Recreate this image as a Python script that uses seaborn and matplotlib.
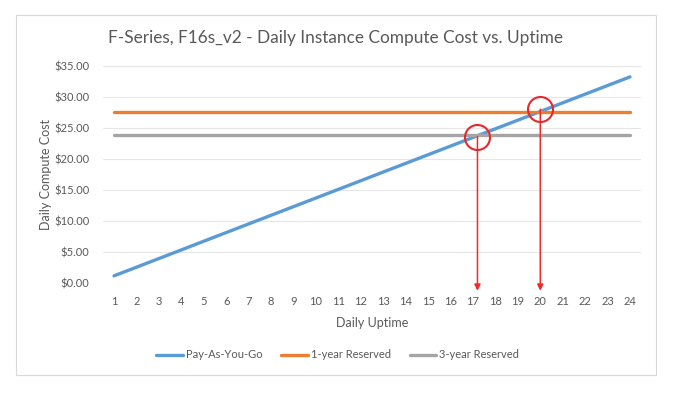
import pandas as pd
import seaborn as sns
import matplotlib.pyplot as plt
from matplotlib.patches import Rectangle
from matplotlib.ticker import FuncFormatter

# chart values
hours = list(range(1, 25))
pay_as_you_go = [1.20, 2.59, 3.98, 5.37, 6.77, 8.16, 9.55, 10.94, 12.33, 13.72, 15.11, 16.50,
                 17.90, 19.29, 20.68, 22.07, 23.46, 24.85, 26.24, 27.63, 29.03, 30.42, 31.81, 33.20]
one_year_reserved = 27.55
three_year_reserved = 23.85
series_names = ['Pay-As-You-Go', '1-year Reserved', '3-year Reserved']
colors = ['#5B9BD5', '#ED7D31', '#A5A5A5']

# break-even markers (circled points with arrows down to the axis)
breakeven_hours = [17.2, 20.0]
breakeven_costs = [23.6, 28.0]

df = pd.DataFrame({
    'Daily Uptime': hours * 3,
    'Daily Compute Cost': pay_as_you_go + [one_year_reserved] * len(hours) + [three_year_reserved] * len(hours),
    'Plan': [series_names[0]] * len(hours) + [series_names[1]] * len(hours) + [series_names[2]] * len(hours),
})

sns.set_style('white')
plt.rcParams['font.family'] = ['Lato', 'DejaVu Sans']
text_color = '#595959'

fig = plt.figure(figsize=(6.85, 3.97), dpi=100)
fig.patches.append(Rectangle((16 / 685, 22 / 397), 640 / 685, 360 / 397, transform=fig.transFigure,
                             facecolor='none', edgecolor='#D9D9D9', lw=0.8, zorder=-10))
ax = fig.add_axes([0.1501, 0.2864, 0.786, 0.5481])
ax.set_facecolor('none')

sns.lineplot(data=df, x='Daily Uptime', y='Daily Compute Cost', hue='Plan', palette=colors,
             linewidth=2.4, ax=ax, legend=False, zorder=3)

ax.set_xlim(0.5, 24.5)
ax.set_ylim(0, 35)
ax.set_xticks(hours)
ax.set_yticks(range(0, 36, 5))
ax.yaxis.set_major_formatter(FuncFormatter(lambda v, p: f'${v:.2f}'))
ax.grid(axis='y', color='#E6E6E6', lw=0.8, zorder=0)
for s in ax.spines.values():
    s.set_visible(False)
ax.tick_params(axis='both', length=0, labelsize=8, labelcolor=text_color)
ax.tick_params(axis='x', pad=9)
ax.tick_params(axis='y', pad=9.5)
ax.set_xlabel('Daily Uptime', fontsize=9, color=text_color, labelpad=7)
ax.set_ylabel('Daily Compute Cost', fontsize=9, color=text_color, labelpad=2)
fig.text(0.4905, 0.904, 'F-Series, F16s_v2 - Daily Instance Compute Cost vs. Uptime', fontsize=12.4,
         color=text_color, ha='center', va='center')

for bx, by in zip(breakeven_hours, breakeven_costs):
    ax.plot(bx, by, marker='o', markersize=18, markerfacecolor='none',
            markeredgecolor='#E8272A', markeredgewidth=1.5, zorder=5, clip_on=False)
    ax.annotate('', xy=(bx, -1.2), xytext=(bx, by), annotation_clip=False,
                arrowprops=dict(arrowstyle='-|>', color='#F0292B', lw=1.1, mutation_scale=9,
                                shrinkA=0, shrinkB=0), zorder=4)

handles = [plt.Line2D([], [], color=c, lw=2.4) for c in colors]
fig.legend(handles, series_names, loc='center', bbox_to_anchor=(0.493, 0.106), ncol=3, frameon=False,
           fontsize=8, labelcolor=text_color, handlelength=2.4, handletextpad=0.25, columnspacing=1.7)

fig.savefig('out.png', dpi=100)
